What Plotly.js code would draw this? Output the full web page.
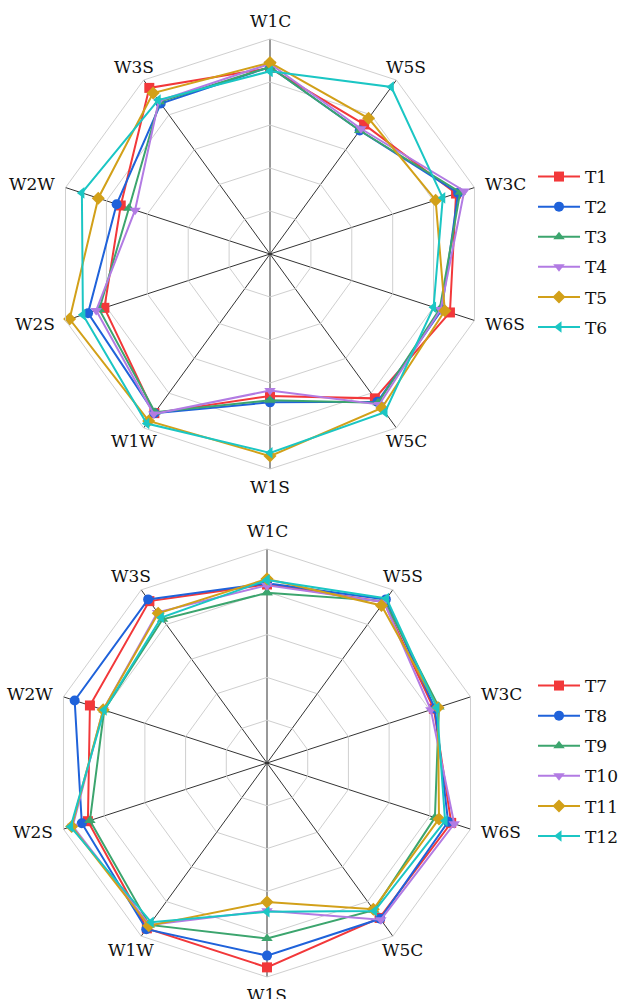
<!DOCTYPE html>
<html>
<head>
<meta charset="utf-8">
<script src="https://cdn.plot.ly/plotly-3.0.1.min.js"></script>
<style>
html,body{margin:0;padding:0;background:#fff;}
#chart{width:618px;height:999px;}
</style>
</head>
<body>
<div id="chart"></div>
<script>
// Categories (clockwise from top)
const categories = ['W1C','W5S','W3C','W6S','W5C','W1S','W1W','W2S','W2W','W3S'];

// Top chart series
const T1 = [0.865, 0.745, 0.91, 0.88, 0.83, 0.66, 0.915, 0.81, 0.73, 0.955];
const T2 = [0.87, 0.71, 0.92, 0.84, 0.85, 0.69, 0.915, 0.89, 0.75, 0.865];
const T3 = [0.87, 0.71, 0.93, 0.83, 0.855, 0.68, 0.91, 0.835, 0.69, 0.875];
const T4 = [0.885, 0.72, 0.95, 0.835, 0.865, 0.635, 0.92, 0.85, 0.66, 0.88];
const T5 = [0.89, 0.78, 0.81, 0.855, 0.885, 0.94, 0.96, 0.98, 0.84, 0.925];
const T6 = [0.85, 0.96, 0.845, 0.80, 0.91, 0.925, 0.975, 0.915, 0.92, 0.885];

// Bottom chart series
const T7  = [0.835, 0.93, 0.82, 0.905, 0.895, 0.955, 0.955, 0.88, 0.87, 0.935];
const T8  = [0.84, 0.945, 0.825, 0.89, 0.90, 0.90, 0.96, 0.91, 0.945, 0.945];
const T9  = [0.795, 0.935, 0.845, 0.825, 0.85, 0.82, 0.935, 0.87, 0.80, 0.83];
const T10 = [0.83, 0.93, 0.805, 0.92, 0.905, 0.69, 0.935, 0.955, 0.805, 0.87];
const T11 = [0.86, 0.91, 0.84, 0.845, 0.845, 0.65, 0.94, 0.96, 0.805, 0.865];
const T12 = [0.855, 0.95, 0.835, 0.875, 0.855, 0.695, 0.92, 0.965, 0.80, 0.84];

const topNames = ['T1','T2','T3','T4','T5','T6'];
const botNames = ['T7','T8','T9','T10','T11','T12'];
const topSeries = [T1,T2,T3,T4,T5,T6];
const botSeries = [T7,T8,T9,T10,T11,T12];

const colors = ['#F2383A','#1F62DA','#3CA56E','#B27BE3','#D2A019','#1BC6C4'];
const symbols = ['square','circle','triangle-up','triangle-down','diamond','triangle-left'];

const FONT = 'DejaVu Serif';
const W = 618, H = 999;
const traces = [];
function addTraces(names, series, subplot, legend) {
  names.forEach((n, i) => {
    const r = series[i].concat([series[i][0]]);
    const th = categories.concat([categories[0]]);
    traces.push({
      type: 'scatterpolar',
      r: r, theta: th, name: n,
      subplot: subplot, legend: legend, legendgroup: n,
      mode: 'lines+markers',
      line: {color: colors[i], width: 2},
      marker: {color: colors[i], symbol: symbols[i], size: 10},
      cliponaxis: false
    });
  });
}
addTraces(topNames, topSeries, 'polar', 'legend');
addTraces(botNames, botSeries, 'polar2', 'legend2');

// polar boxes in pixels: [x0, x1, yTop, yBot]
const boxTop = [55, 485, 39, 469];
const boxBot = [53, 481, 549, 977];

function polarCfg(b) {
  return {
    domain: {x: [b[0]/W, b[1]/W], y: [1 - b[3]/H, 1 - b[2]/H]},
    gridshape: 'linear',
    bgcolor: 'rgba(0,0,0,0)',
    radialaxis: {
      range: [0, 1], dtick: 0.2, showticklabels: false, ticks: '',
      showline: false, gridcolor: '#cfcfcf', gridwidth: 1
    },
    angularaxis: {
      type: 'category', categoryarray: categories, categoryorder: 'array',
      rotation: 90, direction: 'clockwise',
      showline: true, linecolor: '#cfcfcf', linewidth: 1,
      gridcolor: '#333333', gridwidth: 1, ticks: '',
      showticklabels: false
    }
  };
}

// category labels placed just outside each vertex of the polygon
function labelAnnots(b) {
  const cx = (b[0] + b[1]) / 2, cy = (b[2] + b[3]) / 2;
  const R = (b[3] - b[2]) / 2;
  return categories.map((c, k) => {
    const ang = (90 - k * 360 / categories.length) * Math.PI / 180;
    const dx = Math.cos(ang), dy = Math.sin(ang);
    let xa = 'center', ya = 'middle', pad = 7, xs = 0;
    if (dx > 0.7) { xa = 'left'; pad = 10; }
    else if (dx < -0.7) { xa = 'right'; pad = 10; }
    if (dy > 0.4) ya = 'bottom'; else if (dy < -0.4) ya = 'top';
    if (Math.abs(dx) > 0.3 && Math.abs(dx) < 0.7) { pad = 3; xs = dx > 0 ? 8 : -8; }
    const px = cx + (R + pad) * dx, py = cy - (R + pad) * dy;
    return {
      text: c, xref: 'paper', yref: 'paper', x: px / W, y: 1 - py / H,
      xanchor: xa, yanchor: ya, xshift: xs, showarrow: false, borderpad: 0,
      font: {family: FONT, size: 17, color: '#111'}
    };
  });
}

const layout = {
  width: W, height: H,
  margin: {l: 0, r: 0, t: 0, b: 0, autoexpand: false},
  paper_bgcolor: '#fff',
  font: {family: FONT, color: '#111'},
  polar: polarCfg(boxTop),
  polar2: polarCfg(boxBot),
  annotations: labelAnnots(boxTop).concat(labelAnnots(boxBot)),
  legend: {x: 533/W, y: 1 - 159/H, xanchor: 'left', yanchor: 'top',
           font: {family: FONT, size: 17, color: '#111'}, tracegroupgap: 5,
           itemwidth: 42, bgcolor: 'rgba(0,0,0,0)'},
  legend2: {x: 533/W, y: 1 - 668/H, xanchor: 'left', yanchor: 'top',
           font: {family: FONT, size: 17, color: '#111'}, tracegroupgap: 5,
           itemwidth: 42, bgcolor: 'rgba(0,0,0,0)'},
  showlegend: true
};

Plotly.newPlot('chart', traces, layout, {displayModeBar: false, staticPlot: true});
</script>
</body>
</html>
